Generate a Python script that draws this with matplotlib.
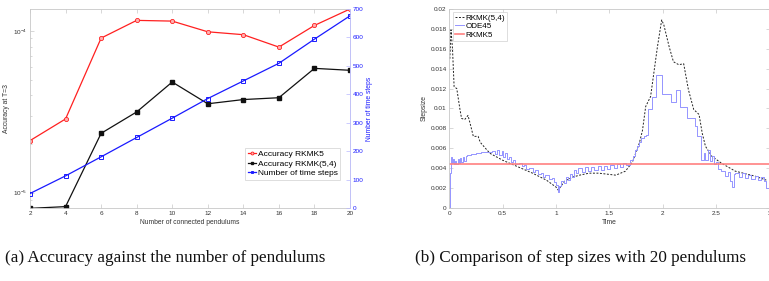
import matplotlib
matplotlib.use("Agg")
import matplotlib.pyplot as plt
import numpy as np

# ---------------- data: panel (a) ----------------
pendulums = [2, 4, 6, 8, 10, 12, 14, 16, 18, 20]
acc_rkmk5 = [2.1e-5, 2.86e-5, 9.05e-5, 1.165e-4, 1.153e-4, 9.9e-5, 9.5e-5, 7.96e-5, 1.084e-4, 1.37e-4]
acc_rkmk54 = [8.0e-6, 8.2e-6, 2.33e-5, 3.16e-5, 4.84e-5, 3.55e-5, 3.77e-5, 3.87e-5, 5.88e-5, 5.72e-5]
time_steps = [51, 113, 180, 248, 316, 385, 447, 509, 594, 676]

# ---------------- data: panel (b) ----------------
t_rkmk54 = [0.005, 0.016, 0.03, 0.045, 0.07, 0.1, 0.115, 0.145, 0.175, 0.195, 0.225, 0.27, 0.29,
            0.38, 0.5, 0.63, 0.78, 0.91, 1.0, 1.02, 1.08, 1.155, 1.22, 1.31, 1.40, 1.56, 1.65,
            1.715, 1.78, 1.81, 1.84, 1.886, 1.95, 1.99, 2.01, 2.06, 2.10, 2.15, 2.196, 2.24,
            2.29, 2.34, 2.37, 2.40, 2.46, 2.55, 2.68, 2.865, 2.97]
h_rkmk54 = [0.0150, 0.0179, 0.0160, 0.0122, 0.0120, 0.0099, 0.0090, 0.0089, 0.0093, 0.0085,
            0.0072, 0.0072, 0.0066, 0.0055, 0.0048, 0.0042, 0.0035, 0.0028, 0.0021, 0.0018,
            0.0027, 0.0031, 0.0033, 0.0035, 0.0035, 0.0033, 0.0037, 0.0046, 0.0065, 0.0078,
            0.0102, 0.0112, 0.0162, 0.0189, 0.0184, 0.0162, 0.0147, 0.0144, 0.0145, 0.0119,
            0.0099, 0.0094, 0.0075, 0.0062, 0.0052, 0.0045, 0.0037, 0.0032, 0.0028]

t_ode45 = [0.0, 0.005, 0.012, 0.022, 0.032, 0.042, 0.052, 0.065, 0.078, 0.09, 0.1, 0.11, 0.125,
           0.14, 0.155, 0.17, 0.2, 0.25, 0.3, 0.35, 0.4, 0.43, 0.45, 0.47, 0.49, 0.5, 0.52, 0.54,
           0.56, 0.58, 0.6, 0.62, 0.65, 0.68, 0.7, 0.72, 0.75, 0.78, 0.8, 0.83, 0.86, 0.88, 0.9,
           0.93, 0.96, 0.98, 1.0, 1.015, 1.03, 1.05, 1.07, 1.09, 1.11, 1.13, 1.15, 1.17, 1.19,
           1.21, 1.24, 1.27, 1.3, 1.33, 1.36, 1.39, 1.42, 1.45, 1.48, 1.51, 1.54, 1.57, 1.6,
           1.63, 1.66, 1.69, 1.72, 1.74, 1.76, 1.78, 1.8, 1.82, 1.84, 1.86, 1.9, 1.935, 1.995,
           2.075, 2.12, 2.165, 2.225, 2.3, 2.325, 2.355, 2.385, 2.40, 2.42, 2.44, 2.46, 2.48,
           2.5, 2.52, 2.55, 2.58, 2.61, 2.63, 2.65, 2.665, 2.68, 2.71, 2.74, 2.77, 2.8, 2.83,
           2.86, 2.89, 2.92, 2.95, 2.97, 3.0]
h_ode45 = [0.0, 0.0035, 0.0051, 0.0045, 0.0049, 0.0044, 0.0047, 0.0044, 0.0049, 0.0045, 0.0050,
           0.0046, 0.0051, 0.0047, 0.0052, 0.0053, 0.0054, 0.0055, 0.0056, 0.0056, 0.0057,
           0.0054, 0.0058, 0.0053, 0.0057, 0.0051, 0.0055, 0.0049, 0.0051, 0.0046, 0.0048,
           0.0044, 0.0045, 0.0042, 0.0043, 0.0039, 0.0040, 0.0036, 0.0038, 0.0034, 0.0035,
           0.0031, 0.0033, 0.0029, 0.0030, 0.0026, 0.0023, 0.0016, 0.0022, 0.0027, 0.0025,
           0.0031, 0.0028, 0.0034, 0.0031, 0.0038, 0.0035, 0.0040, 0.0036, 0.0041, 0.0037,
           0.0041, 0.0038, 0.0042, 0.0038, 0.0042, 0.0039, 0.0043, 0.0040, 0.0044, 0.0041,
           0.0045, 0.0043, 0.0048, 0.0052, 0.0058, 0.0062, 0.0066, 0.0070, 0.0072, 0.0073,
           0.0099, 0.0112, 0.0134, 0.0115, 0.0107, 0.0119, 0.0102, 0.0090, 0.0082, 0.0072,
           0.0048, 0.0055, 0.0048, 0.0058, 0.0047, 0.0052, 0.0044, 0.0046, 0.0039, 0.0037,
           0.0032, 0.0036, 0.0027, 0.0021, 0.0034, 0.0035, 0.0031, 0.0035, 0.0030, 0.0033,
           0.0029, 0.0032, 0.0028, 0.0031, 0.0027, 0.0020, 0.0020]

t_rkmk5 = [0.0, 3.0]
h_rkmk5 = [0.00445, 0.00445]

caption_a = "(a) Accuracy against the number of pendulums"
caption_b = "(b) Comparison of step sizes with 20 pendulums"

# ---------------- figure ----------------
W, H = 769, 281
fig = plt.figure(figsize=(W / 100, H / 100), dpi=100)
plt.rcParams['font.family'] = ['Liberation Sans', 'DejaVu Sans']

GRAY = '#c8c8c8'
TXT = '#333333'
tick_fs = 4.6


def px_axes(l, t, r, b):
    return fig.add_axes([l / W, 1 - b / H, (r - l) / W, (b - t) / H])


# ---- panel (a) ----
ax = px_axes(30, 9, 350, 208)
ax.plot(pendulums, acc_rkmk5, '-o', color='#ff2020', lw=0.9, ms=3,
        mfc='#ffb0b0', mec='#ff2020', mew=0.6, label='Accuracy RKMK5')
ax.plot(pendulums, acc_rkmk54, '-s', color='#111111', lw=0.9, ms=2.5,
        mfc='#111111', mec='#111111', label='Accuracy RKMK(5,4)')
ax.set_yscale('log')
ax.set_ylim(8.04e-6, 1.37e-4)
ax.set_xlim(2, 20)
ax.set_xticks(pendulums)
ax.set_ylabel('Accuracy at T=3', fontsize=tick_fs + 0.3, color=TXT, labelpad=2)
ax.set_xlabel('Number of connected pendulums', fontsize=tick_fs + 0.3, color=TXT, labelpad=2)
ax.tick_params(which='both', direction='in', colors=GRAY, labelcolor=TXT,
               labelsize=tick_fs, top=True, right=False, width=0.5, pad=2)
ax.tick_params(which='major', length=3)
ax.tick_params(which='minor', length=1.5)
for s in ax.spines.values():
    s.set_color(GRAY)
    s.set_linewidth(0.6)

ax2 = ax.twinx()
ax2.plot(pendulums, time_steps, '-s', color='#1a1aff', lw=0.9, ms=2.5,
         mfc='none', mec='#1a1aff', mew=0.7, label='Number of time steps')
ax2.set_ylim(0, 700)
ax2.set_yticks([0, 100, 200, 300, 400, 500, 600, 700])
ax2.set_ylabel('Number of time steps', fontsize=tick_fs + 0.3, color='#1a1aff', labelpad=2)
ax2.tick_params(direction='in', colors='#b8b8ff', labelcolor='#1a1aff',
                labelsize=tick_fs, length=3, width=0.5, pad=2)
for s in ax2.spines.values():
    s.set_visible(False)
ax2.spines['right'].set_visible(True)
ax2.spines['right'].set_color('#c0c0ff')
ax2.spines['right'].set_linewidth(0.6)

h1, l1 = ax.get_legend_handles_labels()
h2, l2 = ax2.get_legend_handles_labels()
leg = ax2.legend(h1 + h2, l1 + l2, loc='upper left',
                 bbox_to_anchor=((245 - 30) / 320, 1 - (148 - 9) / 199),
                 fontsize=6.0, frameon=True, fancybox=False, borderpad=0.3,
                 handlelength=1.0, handletextpad=0.2, labelspacing=0.2,
                 borderaxespad=0, markerscale=0.7)
leg.get_frame().set_edgecolor('#cfcfcf')
leg.get_frame().set_linewidth(0.6)

# ---- panel (b) ----
bx = px_axes(449.3, 9, 769.5, 208)
bx.plot(t_rkmk54, h_rkmk54, '--', color='#222222', lw=0.7, dashes=(2.0, 1.6), label='RKMK(5,4)')
bx.plot(t_ode45, h_ode45, '-', color='#9494ff', lw=0.7, drawstyle='steps-post', label='ODE45')
bx.plot(t_rkmk5, h_rkmk5, '-', color='#ff8080', lw=1.2, label='RKMK5')
bx.set_xlim(0, 3)
bx.set_ylim(0, 0.02)
bx.set_xticks([0, 0.5, 1, 1.5, 2, 2.5, 3])
bx.set_xticklabels(['0', '0.5', '1', '1.5', '2', '2.5', '3'])
yt = [0, 0.002, 0.004, 0.006, 0.008, 0.01, 0.012, 0.014, 0.016, 0.018, 0.02]
bx.set_yticks(yt)
bx.set_yticklabels(['0', '0.002', '0.004', '0.006', '0.008', '0.01', '0.012', '0.014',
                    '0.016', '0.018', '0.02'])
bx.set_xlabel('Time', fontsize=tick_fs + 0.3, color=TXT, labelpad=2)
bx.set_ylabel('Stepsize', fontsize=tick_fs + 0.3, color=TXT, labelpad=2)
bx.tick_params(direction='in', colors=GRAY, labelcolor=TXT, labelsize=tick_fs,
               top=True, right=True, length=3, width=0.5, pad=2)
for s in bx.spines.values():
    s.set_color(GRAY)
    s.set_linewidth(0.6)
leg2 = bx.legend(loc='upper left', bbox_to_anchor=(0.01, 0.985), fontsize=5.8,
                 frameon=True, fancybox=False, borderpad=0.25, handlelength=1.2,
                 handletextpad=0.2, labelspacing=0.1, borderaxespad=0)
leg2.get_frame().set_edgecolor('#cfcfcf')
leg2.get_frame().set_linewidth(0.6)

# ---- captions ----
fig.text(5 / W, 1 - 258 / H, caption_a, fontsize=12.3, family=['Liberation Serif', 'DejaVu Serif'],
         ha='left', va='center', color='#111111')
fig.text(415 / W, 1 - 258 / H, caption_b, fontsize=12.3, family=['Liberation Serif', 'DejaVu Serif'],
         ha='left', va='center', color='#111111')

fig.savefig('out.png', dpi=100)
